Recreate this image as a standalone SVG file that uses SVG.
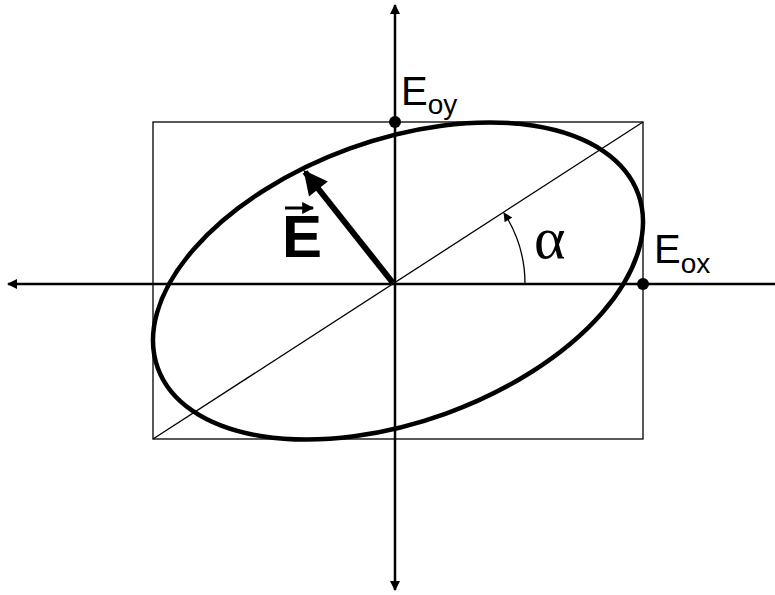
<svg xmlns="http://www.w3.org/2000/svg" width="775" height="595" viewBox="0 0 775 595">
<style>
.thin{fill:none;stroke:#000;stroke-width:1.3}
.axis{fill:none;stroke:#000;stroke-width:2.5}
.lbl{font-family:"Liberation Sans",Arial,sans-serif;fill:#000}
</style>
<defs>
<marker id="ah" viewBox="0 0 10 10" refX="9" refY="5" markerWidth="4.4" markerHeight="4" markerUnits="strokeWidth" orient="auto">
<path d="M0,0 L10,5 L0,10 Z" fill="#000"/>
</marker>
<marker id="ahs" viewBox="0 0 10 10" refX="9" refY="5" markerWidth="9" markerHeight="7" markerUnits="strokeWidth" orient="auto">
<path d="M0,0 L10,5 L0,10 Z" fill="#000"/>
</marker>
<marker id="ahb" viewBox="0 0 10 10" refX="9" refY="5" markerWidth="4.5" markerHeight="4" markerUnits="strokeWidth" orient="auto">
<path d="M0,0 L10,5 L0,10 Z" fill="#000"/>
</marker>
</defs>
<rect width="775" height="595" fill="#fff"/>
<g id="connectors">
<line class="axis" x1="775" y1="284" x2="8" y2="284" marker-end="url(#ah)"/>
<line class="axis" x1="395" y1="284" x2="395" y2="5" marker-end="url(#ah)"/>
<line class="axis" x1="395" y1="284" x2="395" y2="590" marker-end="url(#ah)"/>
<line class="thin" x1="153" y1="439" x2="643" y2="122"/>
<path class="thin" d="M525,284 A130,130 0 0 0 504,213" stroke-width="1.8" marker-end="url(#ahs)"/>
</g>
<g id="box"><rect class="thin" x="153" y="122" width="490" height="317"/></g>
<g id="ellipse"><ellipse cx="398" cy="281" rx="255.5" ry="141" transform="rotate(-19.9 398 281)" fill="none" stroke="#000" stroke-width="4.5"/></g>
<g id="vectorE">
<line x1="393" y1="283" x2="305" y2="172" stroke="#000" stroke-width="6" marker-end="url(#ahb)"/>
<text class="lbl" x="282" y="257" font-size="60" font-weight="bold">E</text>
<line x1="285" y1="208" x2="313" y2="208" stroke="#000" stroke-width="3" marker-end="url(#ahb)"/>
</g>
<g id="alpha"><text x="534" y="258" font-family="Liberation Serif,serif" font-size="60">α</text></g>
<g id="Eoy">
<circle cx="395" cy="122" r="6"/>
<text class="lbl" x="401" y="105" font-size="40">E<tspan font-size="28" dy="9">oy</tspan></text>
</g>
<g id="Eox">
<circle cx="643" cy="284" r="6"/>
<text class="lbl" x="654" y="263" font-size="40">E<tspan font-size="28" dy="10">ox</tspan></text>
</g>
</svg>
